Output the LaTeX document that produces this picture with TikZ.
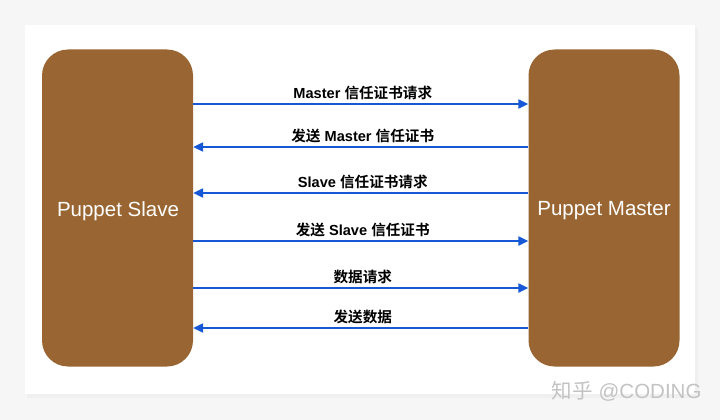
\documentclass[tikz,border=0pt]{standalone}
\usepackage{fontspec}
\setmainfont{Liberation Sans}
\newfontfamily\cjk{Noto Sans CJK SC}[BoldFont={Noto Sans CJK SC Bold}]
\usetikzlibrary{arrows.meta}
\definecolor{boxbrown}{RGB}{153,102,51}
\definecolor{arrblue}{RGB}{22,88,214}
\definecolor{bggray}{RGB}{246,246,246}
\definecolor{wmgray}{RGB}{195,195,195}
\tikzset{
  peer/.style={draw=none, fill=boxbrown, rounded corners=26pt, minimum width=151pt,
    minimum height=317pt, inner sep=0pt, text=white, font=\fontsize{20.5}{24}\selectfont},
  peertext/.style={text=white, font=\fontsize{20.5}{24}\selectfont, inner sep=0pt},
  msg/.style={draw=arrblue, line width=2.2pt, -{Triangle[length=10pt,width=9pt]}},
  lbl/.style={anchor=base, yshift=6pt, inner sep=0pt, font=\fontsize{14.6}{16}\selectfont\bfseries}
}
\begin{document}
\begin{tikzpicture}[x=1pt,y=-1pt]
\useasboundingbox (0,0) rectangle (720,420);
\fill[bggray] (0,0) rectangle (720,420);
\fill[black!6] (27,28) rectangle (698,398);
\fill[white] (25,25) rectangle (695,394);
\node[peer] (slave) at (117.5,208) {};
\node[peer] (master) at (604,208) {};
\node[peertext] (slavet) at (118,211) {Puppet Slave};
\node[peertext] (mastert) at (604,211) {Puppet Master};
\coordinate (r1) at (0,104);
\coordinate (r2) at (0,147);
\coordinate (r3) at (0,193);
\coordinate (r4) at (0,241);
\coordinate (r5) at (0,288);
\coordinate (r6) at (0,328);
\draw[msg] (slave.east |- r1) -- (master.west |- r1) node[lbl, midway, xshift=2pt] (l1) {Master {\cjk 信任证书请求}};
\draw[msg] (master.west |- r2) -- (slave.east |- r2) node[lbl, midway, xshift=2pt] (l2) {{\cjk 发送} Master {\cjk 信任证书}};
\draw[msg] (master.west |- r3) -- (slave.east |- r3) node[lbl, midway, xshift=2pt] (l3) {Slave {\cjk 信任证书请求}};
\draw[msg] (slave.east |- r4) -- (master.west |- r4) node[lbl, midway, xshift=2pt] (l4) {{\cjk 发送} Slave {\cjk 信任证书}};
\draw[msg] (slave.east |- r5) -- (master.west |- r5) node[lbl, midway, xshift=2pt] (l5) {{\cjk 数据请求}};
\draw[msg] (master.west |- r6) -- (slave.east |- r6) node[lbl, midway, xshift=2pt] (l6) {{\cjk 发送数据}};
\node[text=wmgray, font=\fontsize{20.5}{24}\selectfont, anchor=east] (wm) at (705,391) {{\cjk 知乎} @CODING};
\end{tikzpicture}
\end{document}
